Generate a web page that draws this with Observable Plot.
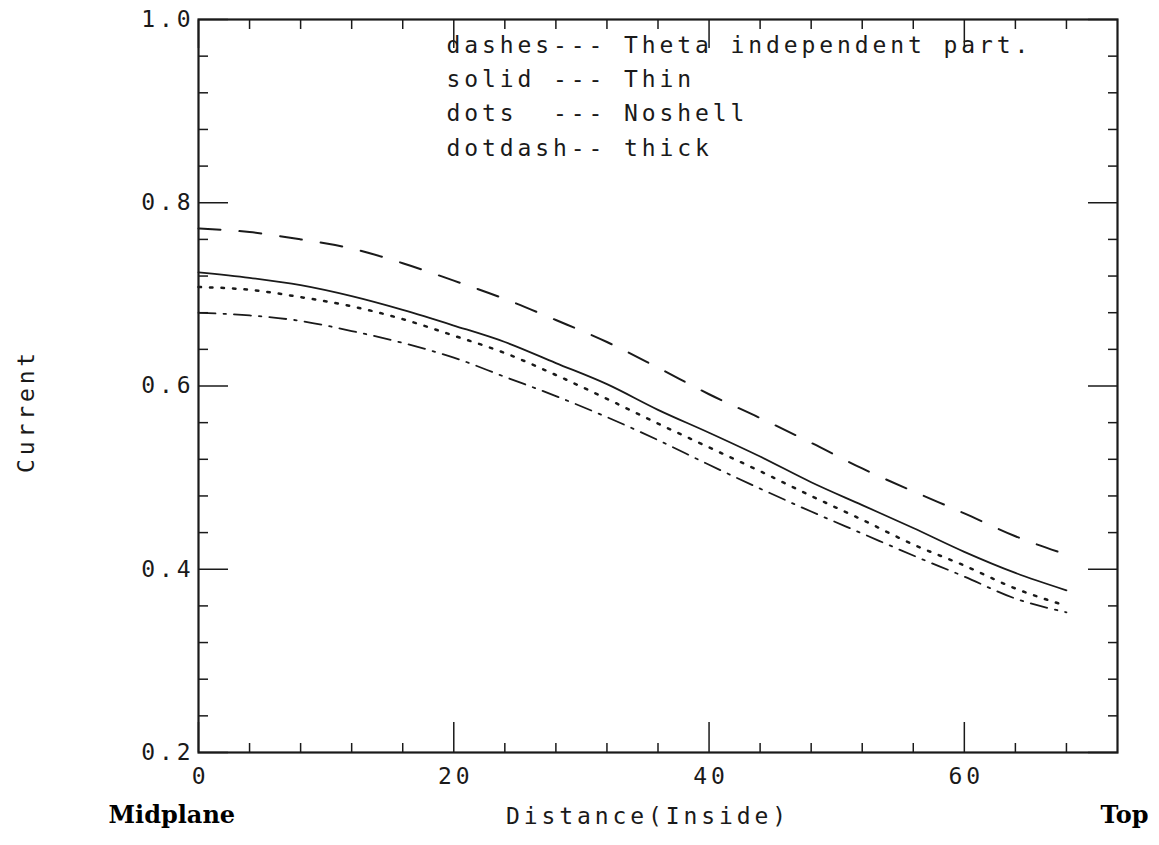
<!DOCTYPE html>
<html>
<head>
<meta charset="utf-8">
<script src="https://cdn.jsdelivr.net/npm/d3@7"></script>
<script src="https://cdn.jsdelivr.net/npm/@observablehq/plot@0.6"></script>
<style>
  html, body { margin: 0; padding: 0; background: #fff; }
  #chart svg text { white-space: pre; letter-spacing: 3.9px; }
  #chart svg g[font-family*="Serif"] text { letter-spacing: 0; }
</style>
</head>
<body>
<div id="chart"></div>
<script>
// Distance (Inside) sample positions
const distance = [0, 4, 8, 12, 16, 20, 24, 28, 32, 36, 40, 44, 48, 52, 56, 60, 64, 68];
// dashes --- Theta independent part.
const thetaIndependent = [0.772, 0.768, 0.760, 0.750, 0.734, 0.715, 0.695, 0.672, 0.648, 0.620, 0.591, 0.565, 0.538, 0.510, 0.485, 0.461, 0.436, 0.416];
// solid --- Thin
const thin = [0.724, 0.718, 0.710, 0.698, 0.683, 0.666, 0.648, 0.625, 0.602, 0.574, 0.549, 0.523, 0.495, 0.470, 0.445, 0.419, 0.396, 0.377];
// dots --- Noshell
const noshell = [0.708, 0.705, 0.697, 0.687, 0.673, 0.655, 0.636, 0.612, 0.586, 0.559, 0.533, 0.507, 0.480, 0.454, 0.427, 0.404, 0.379, 0.360];
// dotdash -- thick
const thick = [0.680, 0.677, 0.671, 0.660, 0.647, 0.631, 0.610, 0.589, 0.566, 0.541, 0.514, 0.488, 0.463, 0.439, 0.415, 0.392, 0.368, 0.353];

const xMajor = [0, 20, 40, 60];
const xMinor = [4, 8, 12, 16, 24, 28, 32, 36, 44, 48, 52, 56, 64, 68];
const yMajor = [0.2, 0.4, 0.6, 0.8, 1.0];
const yMinor = [0.24, 0.28, 0.32, 0.36, 0.44, 0.48, 0.52, 0.56, 0.64, 0.68, 0.72, 0.76, 0.84, 0.88, 0.92, 0.96];

const legendLines = [
  "dashes--- Theta independent part.",
  "solid --- Thin",
  "dots  --- Noshell",
  "dotdash-- thick"
];
const xTitle = "Distance(Inside)";
const yTitle = "Current";
const leftNote = "Midplane";
const rightNote = "Top";

const mk = (ys) => distance.map((d, i) => ({x: d, y: ys[i]}));

const mono = "'DejaVu Sans Mono', monospace";
const serif = "'DejaVu Serif', serif";
const ink = "#1a1a1a";

const chart = Plot.plot({
  width: 1159,
  height: 845,
  marginLeft: 198,
  marginRight: 42,
  marginTop: 19,
  marginBottom: 93,
  style: {fontFamily: mono, fontSize: "23px", color: ink, background: "#fff"},
  x: {domain: [0, 72]},
  y: {domain: [0.2, 1.0]},
  marks: [
    Plot.frame({stroke: ink, strokeWidth: 2.2}),
    // minor ticks (inward) on all four sides
    Plot.axisX(xMinor, {anchor: "bottom", tickSize: -9, tickFormat: () => "", label: null, stroke: ink, strokeWidth: 1.5}),
    Plot.axisX(xMinor, {anchor: "top", tickSize: -9, tickFormat: () => "", label: null, stroke: ink, strokeWidth: 1.5}),
    Plot.axisY(yMinor, {anchor: "left", tickSize: -10, tickFormat: () => "", label: null, stroke: ink, strokeWidth: 1.5}),
    Plot.axisY(yMinor, {anchor: "right", tickSize: -10, tickFormat: () => "", label: null, stroke: ink, strokeWidth: 1.5}),
    // major ticks (inward, longer)
    Plot.axisX(xMajor, {anchor: "bottom", tickSize: -30, tickFormat: () => "", label: null, stroke: ink, strokeWidth: 1.5}),
    Plot.axisX(xMajor, {anchor: "top", tickSize: -28, tickFormat: () => "", label: null, stroke: ink, strokeWidth: 1.5}),
    Plot.axisY(yMajor, {anchor: "left", tickSize: -30, tickFormat: () => "", label: null, stroke: ink, strokeWidth: 1.5}),
    Plot.axisY(yMajor, {anchor: "right", tickSize: -30, tickFormat: () => "", label: null, stroke: ink, strokeWidth: 1.5}),
    // tick labels
    Plot.axisX(xMajor, {anchor: "bottom", tickSize: 0, tickPadding: 15, tickFormat: d => String(d), label: null, fill: ink, dx: 2, fontSize: 23}),
    Plot.axisY(yMajor, {anchor: "left", tickSize: 0, tickPadding: 4, tickFormat: d => d.toFixed(1), label: null, fill: ink, fontSize: 23}),
    // data lines
    Plot.line(mk(thetaIndependent), {x: "x", y: "y", stroke: ink, strokeWidth: 2, strokeDasharray: "22,19", curve: "monotone-x"}),
    Plot.line(mk(thin), {x: "x", y: "y", stroke: ink, strokeWidth: 1.8, curve: "monotone-x"}),
    Plot.line(mk(noshell), {x: "x", y: "y", stroke: ink, strokeWidth: 2.5, strokeDasharray: "2.5,9", curve: "monotone-x"}),
    Plot.line(mk(thick), {x: "x", y: "y", stroke: ink, strokeWidth: 1.8, strokeDasharray: "17,8,2.5,8", curve: "monotone-x"}),
    // legend text
    Plot.text([legendLines.join("\n")], {frameAnchor: "top-left", dx: 248, dy: 9, textAnchor: "start", lineAnchor: "top", lineHeight: 1.49, fontSize: 23, fill: ink, fontFamily: mono}),
    // axis titles
    Plot.text([xTitle], {frameAnchor: "bottom", textAnchor: "middle", dx: -10, dy: 71, fontSize: 23, fill: ink, fontFamily: mono}),
    Plot.text([yTitle], {frameAnchor: "left", textAnchor: "middle", dx: -172, dy: 25, rotate: -90, fontSize: 23, fill: ink, fontFamily: mono}),
    Plot.text([leftNote], {frameAnchor: "bottom-left", textAnchor: "start", dx: -90, dy: 70, fontSize: 24, fontWeight: "bold", fill: "#000", fontFamily: serif}),
    Plot.text([rightNote], {frameAnchor: "bottom-right", textAnchor: "end", dx: 31, dy: 70, fontSize: 24, fontWeight: "bold", fill: "#000", fontFamily: serif})
  ]
});
document.getElementById("chart").append(chart);
</script>
</body>
</html>
